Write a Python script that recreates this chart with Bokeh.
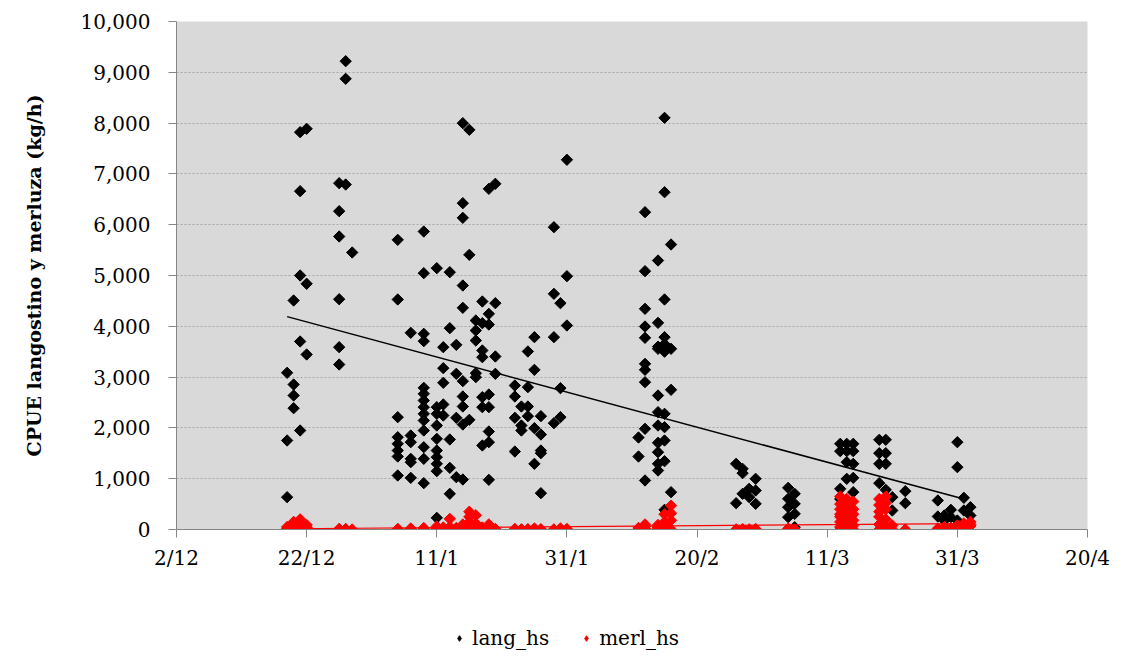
import numpy as np
from datetime import date
from bokeh.plotting import figure
from bokeh.layouts import column
from bokeh.models import FixedTicker, NumeralTickFormatter, Legend, LegendItem, Range1d
from bokeh.embed import file_html
from bokeh.resources import INLINE

# ---------------- data ----------------
x_tick_labels = ["2/12", "22/12", "11/1", "31/1", "20/2", "11/3", "31/3", "20/4"]
y_ticks = [0, 1000, 2000, 3000, 4000, 5000, 6000, 7000, 8000, 9000, 10000]

lang_dates = ["19/12", "20/12", "21/12", "22/12", "27/12", "28/12", "29/12",
              "5/1", "7/1", "9/1", "11/1", "12/1", "13/1", "14/1", "15/1", "16/1",
              "17/1", "18/1", "19/1", "20/1", "23/1", "24/1", "25/1", "26/1", "27/1",
              "29/1", "30/1", "31/1", "11/2", "12/2", "14/2", "15/2", "16/2",
              "26/2", "27/2", "28/2", "29/2", "5/3", "6/3", "13/3", "14/3", "15/3",
              "19/3", "20/3", "21/3", "23/3", "28/3", "29/3", "30/3", "31/3", "1/4", "2/4"]
lang_values = [
    [3085, 1752, 636],
    [4508, 2854, 2638, 2388],
    [7822, 6660, 5000, 3701, 1949],
    [7888, 4837, 3445],
    [6817, 6266, 5768, 4533, 3589, 3248],
    [9219, 8872, 6791],
    [5453],
    [5702, 4528, 2211, 1817, 1687, 1555, 1437, 1063],
    [3872, 1850, 1719, 1391, 1325, 1017],
    [5866, 5046, 3852, 3707, 2789, 2671, 2539, 2408, 2277, 2146, 1949, 1620, 1391, 912],
    [5144, 2408, 2277, 2047, 1785, 1555, 1424, 1293, 1148, 230],
    [3589, 3176, 2888, 2461, 2244],
    [5065, 3963, 1772, 1214, 703],
    [3635, 3065, 2199, 1030],
    [7998, 6423, 6135, 4803, 4364, 2920, 2618, 2421, 2067, 984],
    [7868, 5407, 2159],
    [4114, 3917, 3720, 3077, 2999],
    [4488, 4061, 3524, 3392, 2605, 2408, 1654],
    [6706, 4245, 4035, 2657, 2408, 1929, 1719, 978],
    [6805, 4455, 3406, 3065],
    [2835, 2618, 2199, 1535],
    [2421, 2047, 1949],
    [3504, 2802, 2421, 2231],
    [3786, 3143, 1995, 1293],
    [2231, 1870, 1555, 1502, 715],
    [5951, 4639, 3786, 2093],
    [4455, 2782, 2211],
    [7278, 4986, 4016],
    [1811, 1437],
    [6246, 5085, 4344, 3996, 3773, 3261, 3143, 2900, 1982, 965],
    [5295, 4068, 3600, 3557, 2638, 2310, 2047, 1707, 1522, 1293, 1161],
    [8104, 6640, 4528, 3786, 3650, 3557, 3500, 2277, 2014, 1752, 1345, 388],
    [5610, 3557, 2750, 735],
    [1293, 518],
    [1194, 1109, 703],
    [801, 636],
    [998, 768, 505],
    [820, 604, 440, 243],
    [703, 505, 308, 45],
    [1687, 1542, 801, 600],
    [1687, 1542, 1325, 998],
    [1687, 1542, 1293, 1017, 735],
    [1766, 1502, 1293, 912],
    [1766, 1502, 1293, 781],
    [636, 374],
    [754, 518],
    [571, 256],
    [276, 177],
    [388, 243],
    [1719, 1227, 177],
    [624, 374],
    [440, 276],
]

merl_dates = ["19/12", "20/12", "21/12", "22/12", "27/12", "28/12", "29/12",
              "5/1", "7/1", "9/1", "11/1", "12/1", "13/1", "14/1", "15/1", "16/1",
              "17/1", "18/1", "19/1", "20/1", "23/1", "24/1", "25/1", "26/1", "27/1",
              "29/1", "30/1", "31/1", "11/2", "12/2", "14/2", "15/2", "16/2",
              "26/2", "27/2", "28/2", "29/2", "5/3", "6/3", "13/3", "14/3", "15/3",
              "19/3", "20/3", "21/3", "23/3", "28/3", "29/3", "30/3", "31/3", "1/4", "2/4"]
merl_values = [
    [20, 0, 50],
    [150, 30, 80, 0],
    [120, 200, 60, 10, 0],
    [40, 0, 90],
    [0, 10, 5, 0],
    [0, 10, 0],
    [0],
    [0, 10, 0, 5],
    [0, 20, 0],
    [0, 10, 30, 0],
    [20, 0, 60, 10],
    [40, 0, 10],
    [210, 0, 50, 20],
    [30, 0, 10],
    [100, 60, 0, 20],
    [350, 250, 150, 0],
    [280, 120, 0],
    [40, 0, 10],
    [100, 0, 30],
    [10, 0],
    [0, 10],
    [0, 0],
    [0, 5],
    [0, 20],
    [0, 5],
    [0, 0],
    [0, 20],
    [0, 10],
    [30, 0],
    [60, 0, 100, 20],
    [0, 50, 30, 90],
    [300, 150, 50, 0, 80],
    [470, 320, 180, 0],
    [0, 0],
    [0, 5],
    [0, 0],
    [0, 10],
    [0, 20],
    [0, 0],
    [650, 500, 400, 300, 250, 150, 50, 0],
    [600, 450, 350, 200, 100, 20, 0],
    [550, 400, 300, 180, 80, 0],
    [600, 480, 350, 250, 100, 0],
    [650, 520, 400, 200, 50, 0],
    [80, 0],
    [0],
    [0, 20],
    [0, 50],
    [0, 30],
    [0, 80],
    [60, 120, 10],
    [150, 100, 70],
]

series_names = ["lang_hs", "merl_hs"]
series_colors = ["black", "#FF0000"]

# linear trend lines (end points)
lang_trend_dates = ["19/12", "1/4"]
lang_trend_values = [4190, 600]
merl_trend_dates = ["19/12", "1/4"]
merl_trend_values = [15, 115]


def day_of(s):
    d, m = map(int, s.split("/"))
    y = 2007 if m == 12 else 2008
    return (date(y, m, d) - date(2007, 12, 2)).days


def flatten(dates, values):
    xs, ys = [], []
    for d, vs in zip(dates, values):
        for v in vs:
            xs.append(day_of(d))
            ys.append(v)
    return xs, ys


lx, ly = flatten(lang_dates, lang_values)
mx, my = flatten(merl_dates, merl_values)

FONT = "DejaVu Serif"
AXIS_GRAY = "#868686"
MARK = dict(marker="square", angle=np.pi / 4, size=8)

p = figure(width=1110, height=574, output_backend="svg", toolbar_location=None,
           x_range=(0, 140), y_range=(0, 10000),
           min_border_left=176, min_border_right=23, min_border_top=21,
           min_border_bottom=45)
p.background_fill_color = "#D9D9D9"
p.border_fill_color = "white"
p.outline_line_color = None

p.scatter(lx, ly, fill_color=series_colors[0], line_color=series_colors[0], **MARK)
p.scatter(mx, my, fill_color=series_colors[1], line_color=series_colors[1], **MARK)

p.line([day_of(d) for d in lang_trend_dates], lang_trend_values,
       line_color="black", line_width=1.5)
p.line([day_of(d) for d in merl_trend_dates], merl_trend_values,
       line_color="#FF0000", line_width=1.2)

# axes
tick_pos = [day_of(s) if s != "20/4" else 140 for s in x_tick_labels]
p.xaxis.ticker = FixedTicker(ticks=tick_pos)
p.xaxis.major_label_overrides = {t: s for t, s in zip(tick_pos, x_tick_labels)}
p.yaxis.ticker = FixedTicker(ticks=y_ticks)
p.yaxis.formatter = NumeralTickFormatter(format="0,0")

for ax in (p.xaxis[0], p.yaxis[0]):
    ax.axis_line_color = AXIS_GRAY
    ax.major_tick_line_color = AXIS_GRAY
    ax.minor_tick_line_color = None
    ax.major_tick_in = 0
    ax.major_tick_out = 8
    ax.major_label_text_font = FONT
    ax.major_label_text_font_size = "20px"
    ax.major_label_text_color = "black"

p.xaxis.major_label_standoff = 8
p.yaxis.major_label_standoff = 18
p.yaxis.axis_label = "CPUE langostino y merluza (kg/h)"
p.yaxis.axis_label_text_font = FONT
p.yaxis.axis_label_text_font_style = "bold"
p.yaxis.axis_label_text_font_size = "19px"
p.yaxis.axis_label_text_color = "black"
p.yaxis.axis_label_standoff = 33

p.xgrid.grid_line_color = None
p.ygrid.grid_line_color = "#A6A6A6"
p.ygrid.grid_line_dash = "2 2"
p.ygrid.grid_line_width = 1

# ---- legend strip below the chart ----
lg = figure(width=1110, height=80, output_backend="svg", toolbar_location=None,
            x_range=Range1d(0, 1), y_range=Range1d(-1, 0),
            x_axis_location=None, y_axis_location=None,
            min_border_left=176, min_border_right=23, min_border_top=0,
            min_border_bottom=0)
lg.outline_line_color = None
lg.grid.visible = False
lg.background_fill_color = "white"
# hidden proxy renderers (first point of each series), only used to draw legend glyphs
proxies = [lg.scatter(xs[:1], ys[:1], marker="diamond", size=12,
                      fill_color=c, line_color=c, visible=False)
           for xs, ys, c in ((lx, ly, series_colors[0]), (mx, my, series_colors[1]))]

legend = Legend(items=[LegendItem(label=n, renderers=[r]) for n, r in zip(series_names, proxies)],
                orientation="horizontal", location=(276, 4),
                background_fill_alpha=0, border_line_color=None,
                inactive_fill_alpha=0,
                label_text_font=FONT, label_text_font_size="20px",
                label_text_color="black",
                spacing=30, glyph_width=14, label_standoff=6, padding=0, margin=0)
lg.add_layout(legend, "center")

layout = column(p, lg, spacing=0)
open("out.html", "w").write(file_html(layout, INLINE))
